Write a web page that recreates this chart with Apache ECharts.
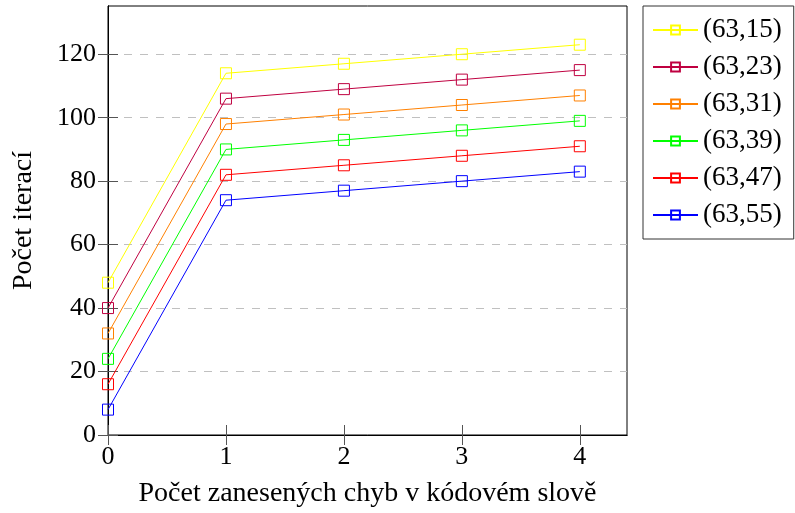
<!DOCTYPE html>
<html>
<head>
<meta charset="utf-8">
<title>Počet iterací</title>
<script src="https://cdn.jsdelivr.net/npm/echarts@6/dist/echarts.min.js"></script>
<style>
  html, body { margin: 0; padding: 0; background: #fff; }
  #chart { width: 795px; height: 513px; }
</style>
</head>
<body>
<div id="chart"></div>
<script>
// x = pocet zanesenych chyb
var errors = [0, 1, 2, 3, 4];
var yTicks = [0, 20, 40, 60, 80, 100, 120];
var names = ['(63,15)', '(63,23)', '(63,31)', '(63,39)', '(63,47)', '(63,55)'];
var colors = ['#ffff00', '#bf0040', '#ff8000', '#00ff00', '#ff0000', '#0000ff'];
var it6315 = [48, 114, 117, 120, 123];
var it6323 = [40, 106, 109, 112, 115];
var it6331 = [32, 98, 101, 104, 107];
var it6339 = [24, 90, 93, 96, 99];
var it6347 = [16, 82, 85, 88, 91];
var it6355 = [8, 74, 77, 80, 83];
var values = [it6315, it6323, it6331, it6339, it6347, it6355];

var font = 'Liberation Serif';

var series = names.map(function (n, i) {
    return {
        name: n,
        type: 'line',
        data: errors.map(function (x, j) { return [x, values[i][j]]; }),
        symbol: 'rect',
        symbolSize: 11,
        lineStyle: { color: colors[i], width: 1 },
        itemStyle: { color: 'rgba(255,255,255,0)', borderColor: colors[i], borderWidth: 1 },
        emphasis: { disabled: true },
        animation: false
    };
});

function xTick() { return { inside: true, length: 10, lineStyle: { color: '#555' }, customValues: errors }; }
function yTick() { return { inside: true, length: 10, lineStyle: { color: '#555' }, customValues: yTicks }; }

var chart = echarts.init(document.getElementById('chart'));
chart.setOption({
    textStyle: { fontFamily: font },
    grid: {
        left: 108, right: 168, top: 6, bottom: 77,
        show: true, borderColor: '#000', borderWidth: 1
    },
    legend: {
        orient: 'vertical',
        left: 643, top: 6,
        padding: [10, 12, 10, 9],
        itemGap: 9,
        itemWidth: 45,
        itemHeight: 11,
        borderColor: '#333', borderWidth: 1,
        backgroundColor: '#fff',
        textStyle: { fontFamily: font, fontSize: 27, color: '#000', lineHeight: 28 },
        data: names
    },
    xAxis: [{
        type: 'value',
        min: 0, max: 4.4, interval: 1,
        name: 'Počet zanesených chyb v kódovém slově',
        nameLocation: 'middle',
        nameGap: 45,
        nameTextStyle: { fontFamily: font, fontSize: 28, color: '#000' },
        axisLine: { lineStyle: { color: '#000', width: 1 } },
        axisTick: xTick(),
        axisLabel: { fontFamily: font, fontSize: 26, color: '#000', margin: 9, customValues: errors },
        splitLine: { show: false }
    }, {
        type: 'value', position: 'top',
        min: 0, max: 4.4, interval: 1,
        axisLine: { show: true, lineStyle: { color: '#000', width: 1 } },
        axisTick: xTick(),
        axisLabel: { show: false },
        splitLine: { show: false }
    }],
    yAxis: [{
        type: 'value',
        min: 0, max: 135.2, interval: 20,
        name: 'Počet iterací',
        nameLocation: 'middle',
        nameGap: 70,
        nameTextStyle: { fontFamily: font, fontSize: 28, color: '#000' },
        axisLine: { show: true, lineStyle: { color: '#000', width: 1 } },
        axisTick: yTick(),
        axisLabel: { fontFamily: font, fontSize: 26, color: '#000', margin: 12, customValues: yTicks },
        splitLine: { show: true, lineStyle: { color: '#c0c0c0', type: [8, 8], width: 1 } }
    }, {
        type: 'value', position: 'right',
        min: 0, max: 135.2, interval: 20,
        axisLine: { show: true, lineStyle: { color: '#000', width: 1 } },
        axisTick: yTick(),
        axisLabel: { show: false },
        splitLine: { show: false }
    }],
    series: series
});
</script>
</body>
</html>
